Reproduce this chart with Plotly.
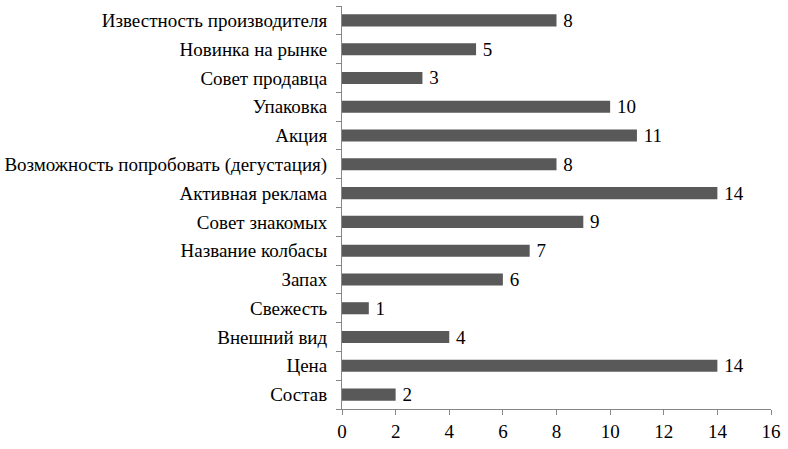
import plotly.graph_objects as go

# категории сверху вниз, как на картинке
categories = [
    "Известность производителя",
    "Новинка на рынке",
    "Совет продавца",
    "Упаковка",
    "Акция",
    "Возможность попробовать (дегустация)",
    "Активная реклама",
    "Совет знакомых",
    "Название колбасы",
    "Запах",
    "Свежесть",
    "Внешний вид",
    "Цена",
    "Состав",
]
values = [8, 5, 3, 10, 11, 8, 14, 9, 7, 6, 1, 4, 14, 2]
x_ticks = [0, 2, 4, 6, 8, 10, 12, 14, 16]

fig = go.Figure(
    go.Bar(
        x=values,
        y=categories,
        orientation="h",
        marker=dict(color="#595959", line=dict(width=0)),
        texttemplate="\u2009%{x}",
        textposition="outside",
        constraintext="none",
        textfont=dict(color="black", size=19),
        cliponaxis=False,
        hoverinfo="none",
    )
)

fig.update_layout(
    width=788,
    height=449,
    margin=dict(l=342, r=17, t=6, b=40, autoexpand=False),
    paper_bgcolor="white",
    plot_bgcolor="white",
    font=dict(family="Liberation Serif, Times New Roman, serif", size=19, color="black"),
    bargap=0.58,
    showlegend=False,
)

fig.update_xaxes(
    range=[0, 16],
    tickvals=x_ticks,
    showgrid=False,
    zeroline=False,
    showline=True,
    linecolor="#868686",
    linewidth=1,
    ticks="outside",
    ticklen=5,
    tickcolor="#868686",
    ticklabelstandoff=0,
    automargin=False,
)

fig.update_yaxes(
    categoryorder="array",
    categoryarray=categories[::-1],
    showgrid=False,
    showline=True,
    linecolor="#868686",
    linewidth=1,
    ticks="outside",
    tickson="boundaries",
    ticklen=5,
    tickcolor="#868686",
    ticklabelstandoff=10,
    automargin=False,
)

fig.write_html(
    "out.html",
    config={"displayModeBar": False},
    post_script="document.body.style.margin='0';",
)
